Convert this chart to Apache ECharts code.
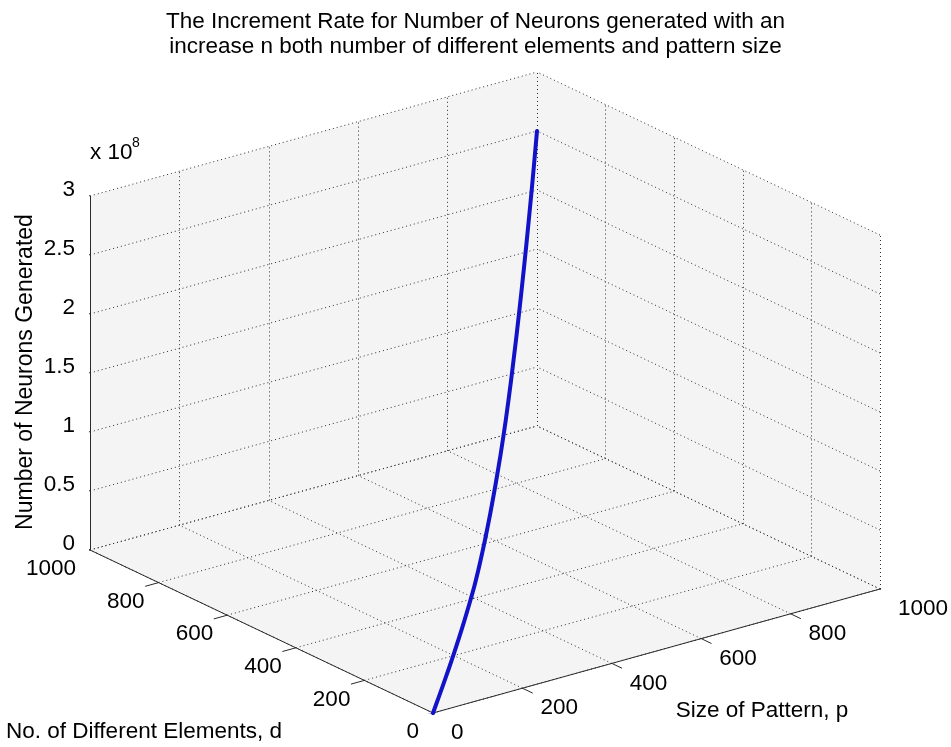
<!DOCTYPE html>
<html>
<head>
<meta charset="utf-8">
<script src="https://cdn.jsdelivr.net/npm/echarts@6/dist/echarts.min.js"></script>
<style>
html,body{margin:0;padding:0;background:#fff;}
#chart{width:951px;height:747px;}
</style>
</head>
<body>
<div id="chart"></div>
<script>
// ---------------- data ----------------
const sizeOfPattern      = [0,50,100,150,200,250,300,350,400,450,500,550,600,650,700,750,800,850,900,950,1000];
const differentElements  = [0,50,100,150,200,250,300,350,400,450,500,550,600,650,700,750,800,850,900,950,1000];
const neuronsGenerated   = [0,0.0003e8,0.002e8,0.006e8,0.014e8,0.028e8,0.048e8,0.075e8,0.11e8,0.17e8,0.25e8,
                            0.35e8,0.47e8,0.61e8,0.78e8,0.99e8,1.23e8,1.5e8,1.8e8,2.13e8,2.5e8];
const pTicks      = [0,200,400,600,800,1000];
const pTickLabels = ['0','200','400','600','800','1000'];
const dTicks      = [0,200,400,600,800,1000];
const dTickLabels = ['0','200','400','600','800','1000'];
const zTicks      = [0,0.5e8,1e8,1.5e8,2e8,2.5e8,3e8];
const zTickLabels = ['0','0.5','1','1.5','2','2.5','3'];

// ---------------- projection (view) ----------------
const P_MAX = 1000, D_MAX = 1000, Z_MAX = 3e8;
const VIEW = {ux:447, uy:124, vx:-343, vy:163, wz:354};
function proj(p, d, z){
  const u = p / P_MAX, v = d / D_MAX, w = z / Z_MAX;
  return [VIEW.ux*u + VIEW.vx*v, VIEW.uy*u + VIEW.vy*v + VIEW.wz*w];
}
const TICK = 0.03;
const FONT = 'Liberation Sans, Arial, sans-serif';
const FS = 22.5;

// ---------------- build geometry from data ----------------
const gridSegs = [];
// floor
pTicks.forEach(p => gridSegs.push({coords:[proj(p,0,0), proj(p,D_MAX,0)]}));
dTicks.forEach(d => gridSegs.push({coords:[proj(0,d,0), proj(P_MAX,d,0)]}));
// back-left wall (d = max)
pTicks.forEach(p => gridSegs.push({coords:[proj(p,D_MAX,0), proj(p,D_MAX,Z_MAX)]}));
zTicks.forEach(z => gridSegs.push({coords:[proj(0,D_MAX,z), proj(P_MAX,D_MAX,z)]}));
// back-right wall (p = max)
dTicks.forEach(d => gridSegs.push({coords:[proj(P_MAX,d,0), proj(P_MAX,d,Z_MAX)]}));
zTicks.forEach(z => gridSegs.push({coords:[proj(P_MAX,0,z), proj(P_MAX,D_MAX,z)]}));

const axisSegs = [
  {coords:[proj(0,D_MAX,0), proj(0,D_MAX,Z_MAX)]},
  {coords:[proj(0,0,0), proj(0,D_MAX,0)]},
  {coords:[proj(0,0,0), proj(P_MAX,0,0)]}
];
zTicks.forEach(z => axisSegs.push({coords:[proj(0,D_MAX,z), proj(0,D_MAX*(1+TICK),z)]}));
dTicks.forEach(d => axisSegs.push({coords:[proj(0,d,0), proj(-P_MAX*TICK,d,0)]}));
pTicks.forEach(p => axisSegs.push({coords:[proj(p,0,0), proj(p,-D_MAX*TICK,0)]}));

const curve = sizeOfPattern.map((p,i) => proj(p, differentElements[i], neuronsGenerated[i]));

const wallPoly = [proj(0,0,0), proj(P_MAX,0,0), proj(P_MAX,0,Z_MAX), proj(P_MAX,D_MAX,Z_MAX),
                  proj(0,D_MAX,Z_MAX), proj(0,D_MAX,0)];

function labelSeries(points, labels, dx, dy, align){
  return {
    type:'custom', coordinateSystem:'cartesian2d', silent:true, z:5,
    data: points,
    renderItem: function(params, api){
      const pt = api.coord([api.value(0), api.value(1)]);
      return {type:'text', x: pt[0]+dx, y: pt[1]+dy,
        style:{text: labels[params.dataIndex], fill:'#000', fontSize:FS, fontFamily:FONT,
               align: align, verticalAlign:'middle'}};
    }
  };
}

const xs = [0, VIEW.ux, VIEW.vx, VIEW.ux+VIEW.vx];
const ys = [0, VIEW.uy, VIEW.vy, VIEW.uy+VIEW.vy+VIEW.wz];
const xMin = Math.min(...xs), xMax = Math.max(...xs);
const yMin = Math.min(...ys), yMax = Math.max(...ys);

const chart = echarts.init(document.getElementById('chart'), null, {renderer:'canvas'});
chart.setOption({
  animation:false,
  backgroundColor:'#ffffff',
  grid:{left:90, top:72, width:xMax-xMin, height:yMax-yMin, containLabel:false},
  xAxis:{type:'value', min:xMin, max:xMax, show:false},
  yAxis:{type:'value', min:yMin, max:yMax, show:false},
  graphic:[
    {type:'text', left:'center', top:10, style:{text:'The Increment Rate for Number of Neurons generated with an', fill:'#000', fontSize:FS, fontFamily:FONT}, x:6},
    {type:'text', left:'center', top:35, style:{text:'increase n both number of different elements and pattern size', fill:'#000', fontSize:FS, fontFamily:FONT}, x:8},
    {type:'text', x:90, y:153, style:{text:'x 10', fill:'#000', fontSize:FS, fontFamily:FONT, verticalAlign:'middle'}},
    {type:'text', x:132, y:143, style:{text:'8', fill:'#000', fontSize:14, fontFamily:FONT, verticalAlign:'middle'}},
    {type:'text', x:762, y:711, style:{text:'Size of Pattern, p', fill:'#000', fontSize:FS, fontFamily:FONT, align:'center', verticalAlign:'middle'}},
    {type:'text', x:6, y:732, style:{text:'No. of Different Elements, d', fill:'#000', fontSize:FS, fontFamily:FONT, align:'left', verticalAlign:'middle'}},
    {type:'text', x:26, y:372, rotation:Math.PI/2, style:{text:'Number of Neurons Generated', fill:'#000', fontSize:23, fontFamily:FONT, align:'center', verticalAlign:'middle'}}
  ],
  series:[
    {
      type:'custom', coordinateSystem:'cartesian2d', silent:true, z:1,
      data:[[0,0]],
      renderItem:function(params, api){
        return {type:'polygon', shape:{points: wallPoly.map(p => api.coord(p))},
                style:{fill:'#f4f4f4', stroke:null}};
      }
    },
    {
      type:'lines', coordinateSystem:'cartesian2d', silent:true, z:2, polyline:false,
      data: gridSegs,
      lineStyle:{color:'#2e2e2e', width:1, type:[1,3], opacity:1}
    },
    {
      type:'lines', coordinateSystem:'cartesian2d', silent:true, z:3, polyline:false,
      data: axisSegs,
      lineStyle:{color:'#2a2a2a', width:1, type:'solid', opacity:1}
    },
    {
      type:'line', silent:true, z:10, data: curve, showSymbol:false, symbol:'none', smooth:0.2,
      lineStyle:{color:'#1212c8', width:4, cap:'round', join:'round'}
    },
    labelSeries(zTicks.map(z => proj(0,D_MAX,z)), zTickLabels, -15, -6, 'right'),
    labelSeries(dTicks.map(d => proj(0,d,0)), dTickLabels, -14, 19, 'right'),
    labelSeries(pTicks.map(p => proj(p,0,0)), pTickLabels, 18, 20, 'left')
  ]
});
</script>
</body>
</html>
